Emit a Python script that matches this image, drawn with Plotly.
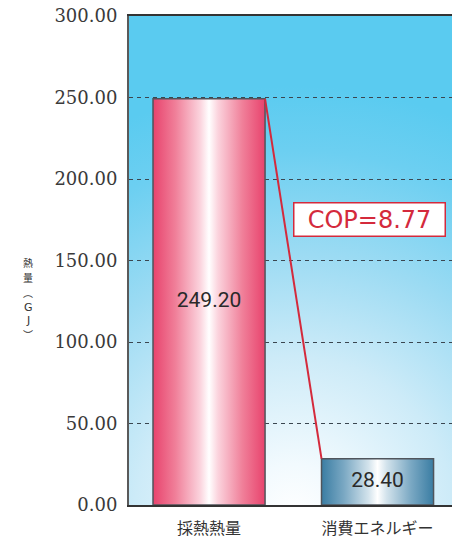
import base64
import plotly.graph_objects as go

# ---- data -------------------------------------------------------------
categories = ["採熱熱量", "消費エネルギー"]
heat_values = [249.20, 28.40]          # GJ
y_ticks = [0, 50, 100, 150, 200, 250, 300]
axis_title_chars = ["熱", "量", "︵", "G", "J", "︶"]

cop = heat_values[0] / heat_values[1]

# ---- styling ----------------------------------------------------------
BAR_WIDTH = 0.665
bar_scales = [
    [[0, "#e8436d"], [0.2, "#f07f99"], [0.42, "#fbd3dd"], [0.5, "#ffffff"],
     [0.58, "#fbd3dd"], [0.8, "#f07f99"], [1, "#e8436d"]],
    [[0, "#3a7da3"], [0.2, "#7aa8c3"], [0.42, "#d3e3ec"], [0.5, "#ffffff"],
     [0.58, "#d3e3ec"], [0.8, "#7aa8c3"], [1, "#3a7da3"]],
]
RED = "#d42a3c"

# sky-blue radial backdrop for the plotting area
svg = (
    '<svg xmlns="http://www.w3.org/2000/svg" width="323" height="489" '
    'viewBox="0 0 323 489" preserveAspectRatio="none"><defs>'
    '<radialGradient id="g" gradientUnits="userSpaceOnUse" cx="165" cy="500" r="430">'
    '<stop offset="0" stop-color="#ffffff"/>'
    '<stop offset="0.12" stop-color="#f2fafe"/>'
    '<stop offset="0.37" stop-color="#cdebf8"/>'
    '<stop offset="0.61" stop-color="#9cdbf3"/>'
    '<stop offset="0.85" stop-color="#6ccff1"/>'
    '<stop offset="1" stop-color="#5acbf0"/>'
    '</radialGradient></defs>'
    '<rect width="323" height="489" fill="url(#g)"/></svg>'
)
bg_uri = "data:image/svg+xml;base64," + base64.b64encode(svg.encode()).decode()

fig = go.Figure()

# bars as gradient-filled outlines
for i, (val, scale) in enumerate(zip(heat_values, bar_scales)):
    x0, x1 = i - BAR_WIDTH / 2, i + BAR_WIDTH / 2
    fig.add_trace(go.Scatter(
        x=[x0, x1, x1, x0, x0],
        y=[0, 0, val, val, 0],
        mode="lines",
        fill="toself",
        fillgradient=dict(type="horizontal", colorscale=scale, start=x0, stop=x1),
        line=dict(color="#50555c", width=1.5),
        hoverinfo="skip",
        showlegend=False,
    ))

# connector between the two bar tops
fig.add_trace(go.Scatter(
    x=[0 + BAR_WIDTH / 2, 1 - BAR_WIDTH / 2],
    y=heat_values,
    mode="lines",
    line=dict(color=RED, width=2),
    hoverinfo="skip",
    showlegend=False,
))

# value labels in the middle of each bar
fig.add_trace(go.Scatter(
    x=list(range(len(heat_values))),
    y=[v / 2 for v in heat_values],
    mode="text",
    text=[f"{v:.2f}" for v in heat_values],
    textfont=dict(family="Roboto", size=21, color="#2a2a2a"),
    hoverinfo="skip",
    showlegend=False,
))

# COP box
fig.add_annotation(
    xref="paper", yref="paper", x=0.745, y=0.583,
    text=f"COP={int(cop * 100) / 100:.2f}",
    showarrow=False,
    font=dict(family="DejaVu Sans", size=24, color=RED),
    bgcolor="#ffffff", bordercolor=RED, borderwidth=1.5, borderpad=1,
    width=148, height=30,
    xanchor="center", yanchor="middle",
)

# vertical axis title, one glyph per row
title_specs = []
for ch in axis_title_chars:
    if ch in ("G", "J"):
        title_specs.append((ch, "DejaVu Sans", 11, 11 * 1.17))
    else:
        title_specs.append((ch, "Noto Sans CJK JP", 10, 10 * 1.45))
total = sum(s[3] for s in title_specs)
y_px = 297 - total / 2          # top of the title block, in pixels
plot_top, plot_h = 16, 489
for ch, fam, size, h in title_specs:
    centre = y_px + h / 2 + 0.3
    fig.add_annotation(
        xref="paper", yref="paper",
        x=(28 - 129) / 323, y=1 - (centre - plot_top) / plot_h,
        text=ch, showarrow=False,
        font=dict(family=fam, size=size, color="#333333"),
        xanchor="center", yanchor="middle",
    )
    y_px += h + 0.6

fig.add_layout_image(
    source=bg_uri, xref="paper", yref="paper", x=0, y=1,
    sizex=1, sizey=1, xanchor="left", yanchor="top",
    sizing="stretch", layer="below",
)

fig.update_layout(
    width=452, height=540,
    margin=dict(l=129, r=0, t=16, b=35),
    paper_bgcolor="#ffffff",
    plot_bgcolor="rgba(0,0,0,0)",
    hovermode=False,
    xaxis=dict(
        range=[-0.475, 1.442],
        tickvals=list(range(len(categories))),
        ticktext=categories,
        tickfont=dict(family="Noto Sans CJK JP", size=16, color="#333333"),
        showgrid=False, zeroline=False,
        showline=True, linecolor="#333333", linewidth=2, mirror=True,
        ticks="", ticklabelstandoff=8,
    ),
    yaxis=dict(
        range=[0, 300],
        tickvals=y_ticks,
        tickformat=".2f",
        tickfont=dict(family="DejaVu Serif", size=18, color="#3a3a3a"),
        showgrid=True, gridcolor="#3a4650", gridwidth=1, griddash="4px,4px",
        zeroline=False,
        showline=True, linecolor="#5a5a5a", linewidth=2,
        ticks="", ticklabelstandoff=6,
    ),
)

fig.write_html("out.html")
